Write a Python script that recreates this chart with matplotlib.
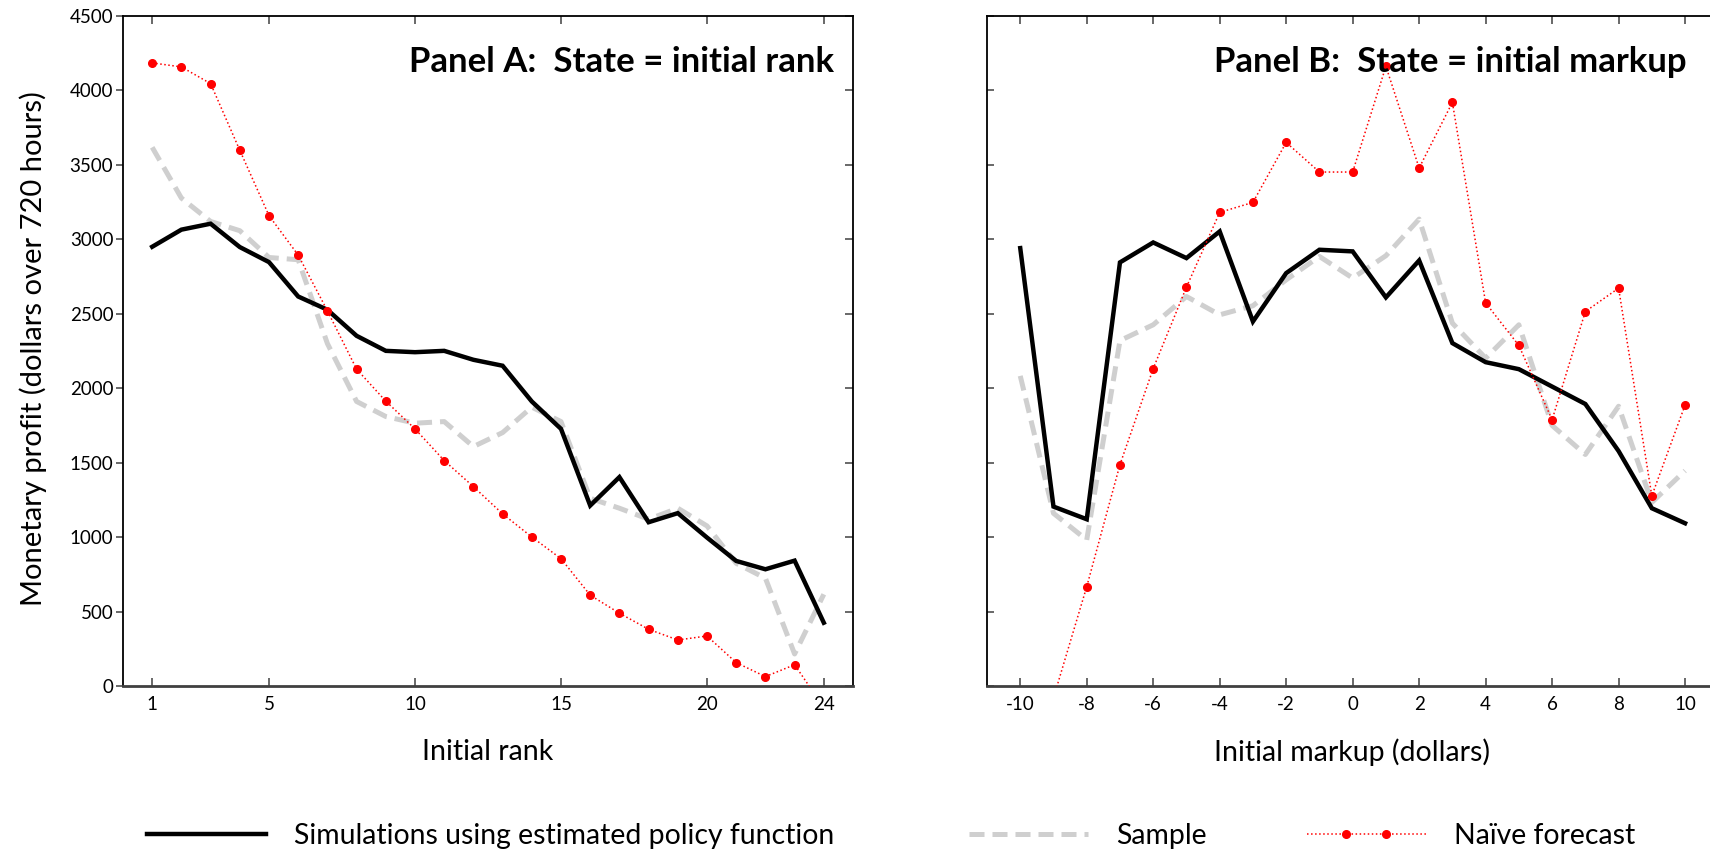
import matplotlib
matplotlib.use("Agg")
import matplotlib.pyplot as plt
from matplotlib.lines import Line2D
import numpy as np

plt.rcParams['font.family'] = ['Lato', 'DejaVu Sans']
plt.rcParams['axes.unicode_minus'] = False

# ---------------- Data ----------------
rank = list(range(1, 25))
rank_sim = [2950, 3065, 3105, 2948, 2847, 2616, 2527, 2352, 2251, 2242, 2251, 2191,
            2151, 1911, 1727, 1212, 1403, 1100, 1161, 997, 840, 784, 842, 425]
rank_sample = [3618, 3277, 3120, 3058, 2878, 2863, 2300, 1911, 1810, 1765, 1776, 1608,
               1702, 1873, 1776, 1261, 1194, 1120, 1194, 1075, 824, 724, 215, 616]
rank_naive = [4185, 4158, 4046, 3598, 3159, 2894, 2520, 2128, 1913, 1727, 1514, 1339,
              1156, 1001, 855, 610, 489, 381, 309, 336, 157, 63, 143, -145]

markup = list(range(-10, 11))
markup_sim = [2941, 1205, 1120, 2845, 2979, 2874, 3053, 2448, 2773, 2930, 2919, 2610,
              2858, 2303, 2175, 2128, 2011, 1894, 1578, 1194, 1093]
markup_sample = [2083, 1160, 981, 2320, 2426, 2616, 2493, 2554, 2728, 2885, 2740, 2890,
                 3136, 2437, 2202, 2426, 1750, 1555, 1879, 1233, 1446]
markup_naive = [-700, -80, 667, 1487, 2132, 2679, 3181, 3248, 3651, 3452, 3452, 4162,
                3479, 3920, 2573, 2287, 1788, 2515, 2672, 1277, 1887]

rank_ticks = [1, 5, 10, 15, 20, 24]
markup_ticks = list(range(-10, 11, 2))
y_ticks = list(range(0, 4501, 500))

labels = ["Simulations using estimated policy function", "Sample", "Naïve forecast"]
titles = ["Panel A:  State = initial rank", "Panel B:  State = initial markup"]
xlabels = ["Initial rank", "Initial markup (dollars)"]
ylabel = "Monetary profit (dollars over 720 hours)"

# ---------------- Style ----------------
sim_kw = dict(color='black', lw=3.2, solid_joinstyle='miter', zorder=3)
sample_kw = dict(color='#cfcfcf', lw=3.6, dashes=(3, 1.6), zorder=2)
naive_kw = dict(color='red', lw=1.1, ls=':', marker='o', ms=5.5,
                markerfacecolor='red', markeredgecolor='red', zorder=4)

fig = plt.figure(figsize=(17.10, 8.52), dpi=100)
axA = fig.add_axes([123/1710, 1-686/852, (853-123)/1710, (686-16)/852])
axB = fig.add_axes([987/1710, 1-686/852, (1710-987)/1710 + 0.01, (686-16)/852])

def style(ax, left_out):
    ax.set_ylim(0, 4500)
    ax.set_yticks(y_ticks)
    for s in ['left', 'right', 'top']:
        ax.spines[s].set_linewidth(1.3)
        ax.spines[s].set_color('black')
    ax.spines['bottom'].set_linewidth(2.0)
    ax.spines['bottom'].set_color('#404040')
    ax.tick_params(axis='x', which='both', direction='in', top=True, bottom=True,
                   length=6, width=1.1, color='#404040', labelsize=13.5, pad=7)
    ax.tick_params(axis='y', which='both', direction='out' if left_out else 'in',
                   left=True, length=5, width=1.1, color='#404040', labelsize=13.5, pad=2)

# Panel A
axA.plot(rank, rank_sample, **sample_kw)
axA.plot(rank, rank_sim, **sim_kw)
axA.plot(rank, rank_naive, **naive_kw)
axA.set_xlim(0, 25)
axA.set_xticks(rank_ticks)
style(axA, True)
axA.tick_params(axis='y', right=True)
axA.yaxis.set_tick_params(which='both', labelright=False)
for t in axA.yaxis.get_major_ticks():
    t.tick2line.set_marker(matplotlib.lines.TICKLEFT)
    t.tick2line.set_markersize(6)

# Panel B
axB.plot(markup, markup_sample, **sample_kw)
axB.plot(markup, markup_sim, **sim_kw)
axB.plot(markup, markup_naive, **naive_kw)
axB.set_xticks(markup_ticks)
style(axB, False)
axB.tick_params(axis='y', labelleft=False, right=False)
axB.spines['right'].set_visible(False)

# x=10.75 sits at the figure's right edge (axes runs past the edge)
posB = axB.get_position()
xr = -11 + 21.75 * posB.width / (1.0 - posB.x0)
axB.set_xlim(-11, xr)

fig.text(834/1710, 1-62/852, titles[0], ha='right', va='center',
         fontsize=25, fontweight='bold')
fig.text(1687/1710, 1-62/852, titles[1], ha='right', va='center',
         fontsize=25, fontweight='bold')

fig.text(488/1710, 1-752/852, xlabels[0], ha='center', va='center', fontsize=20.5)
fig.text(1352/1710, 1-752/852, xlabels[1], ha='center', va='center', fontsize=20.5)
fig.text(33/1710, 1-349/852, ylabel, ha='center', va='center', rotation=90, fontsize=21)

# Legend (three entries placed separately)
handles = [Line2D([], [], **{k: v for k, v in sim_kw.items() if k != 'zorder'}),
           Line2D([], [], **{k: v for k, v in sample_kw.items() if k != 'zorder'}),
           Line2D([], [], **{k: v for k, v in naive_kw.items() if k != 'zorder'})]
xs = [138/1710, 960/1710, 1298/1710]
for i, (h, lab, x) in enumerate(zip(handles, labels, xs)):
    lg = fig.legend([h], [lab], loc='center left', bbox_to_anchor=(x, 1-836/852),
                    frameon=False, fontsize=20.4, handlelength=4.8, handletextpad=0.7,
                    borderpad=0, borderaxespad=0, numpoints=4)
    if i == 2:
        for ln in lg.get_lines():
            ln.set_markevery([1, 2])

fig.savefig("out.png", dpi=100)
